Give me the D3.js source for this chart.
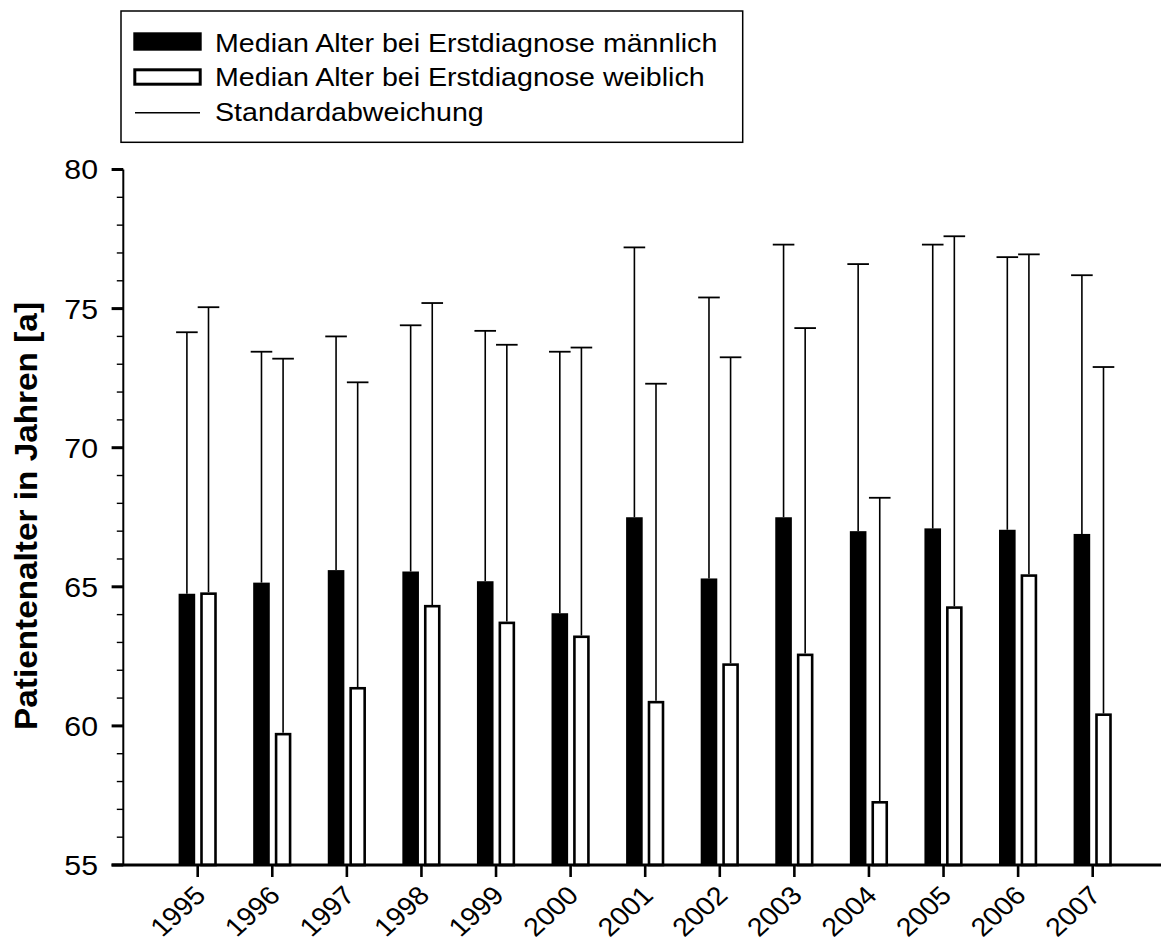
<!DOCTYPE html>
<html>
<head>
<meta charset="utf-8">
<script src="https://cdn.jsdelivr.net/npm/d3@7"></script>
<style>
  html, body { margin: 0; padding: 0; background: #fff; }
  svg { display: block; }
  text { font-family: "Liberation Sans", Arial, Helvetica, sans-serif; fill: #000; }
</style>
</head>
<body>
<svg id="chart" width="1161" height="943"></svg>
<script>
// Jahre der Erstdiagnose
const years = ["1995","1996","1997","1998","1999","2000","2001","2002","2003","2004","2005","2006","2007"];
// Median-Alter bei Erstdiagnose (Jahre)
const maleMedian   = [64.75, 65.15, 65.6, 65.55, 65.2, 64.05, 67.5, 65.3, 67.5, 67.0, 67.1, 67.05, 66.9];
const femaleMedian = [64.8, 59.75, 61.4, 64.35, 63.75, 63.25, 60.9, 62.25, 62.6, 57.3, 64.3, 65.45, 60.45];
// Standardabweichung (Jahre)
const maleSd   = [9.4, 8.3, 8.4, 8.85, 9.0, 9.4, 9.7, 10.1, 9.8, 9.6, 10.2, 9.8, 9.3];
const femaleSd = [10.25, 13.45, 10.95, 10.85, 9.95, 10.35, 11.4, 11.0, 11.7, 10.9, 13.3, 11.5, 12.45];
// Achsenbeschriftung
const yTicks = [55, 60, 65, 70, 75, 80];
const yTitle = "Patientenalter in Jahren [a]";
const legendLabels = [
  "Median Alter bei Erstdiagnose männlich",
  "Median Alter bei Erstdiagnose weiblich",
  "Standardabweichung"
];

const svg = d3.select("#chart");
const SX = 1.1; // horizontal text stretch

const x = d3.scalePoint().domain(years).range([197.7, 1092.7]);
const y = d3.scaleLinear().domain([55, 80]).range([865, 169.5]);

const off = 10.8;   // bar centre offset from year tick
const barW = 16.6;

const rows = years.map((yr, i) => ({
  yr, m: maleMedian[i], f: femaleMedian[i], ms: maleSd[i], fs: femaleSd[i]
}));

// Error bars (drawn first so bars sit on top)
const eb = svg.append("g").attr("stroke", "#000").attr("stroke-width", 1.6);
function errBar(cx, v, sd) {
  eb.append("line").attr("x1", cx).attr("x2", cx).attr("y1", y(v)).attr("y2", y(v + sd));
  eb.append("line").attr("x1", cx - 10.8).attr("x2", cx + 10.8)
    .attr("y1", y(v + sd)).attr("y2", y(v + sd)).attr("stroke-width", 1.8);
}
rows.forEach(d => {
  errBar(x(d.yr) - off, d.m, d.ms);
  errBar(x(d.yr) + off, d.f, d.fs);
});

// Male bars
svg.append("g").selectAll("rect").data(rows).join("rect")
  .attr("x", d => x(d.yr) - off - barW / 2)
  .attr("width", barW)
  .attr("y", d => y(d.m))
  .attr("height", d => y(55) - y(d.m))
  .attr("fill", "#000");

// Female bars
const fsw = 2.6;
svg.append("g").selectAll("rect").data(rows).join("rect")
  .attr("x", d => x(d.yr) + off - barW / 2 + fsw / 2)
  .attr("width", barW - fsw)
  .attr("y", d => y(d.f) + fsw / 2)
  .attr("height", d => y(55) - y(d.f) - fsw / 2)
  .attr("fill", "#fff")
  .attr("stroke", "#000")
  .attr("stroke-width", fsw);

// Y axis
const axisX = 123.3;
const yAxis = svg.append("g");
yAxis.append("line").attr("x1", axisX).attr("x2", axisX)
  .attr("y1", y(80)).attr("y2", y(55)).attr("stroke", "#000").attr("stroke-width", 2);
const minor = d3.range(56, 80).filter(v => v % 5 !== 0);
yAxis.selectAll(".minor").data(minor).join("line")
  .attr("x1", axisX - 6.5).attr("x2", axisX)
  .attr("y1", d => y(d)).attr("y2", d => y(d))
  .attr("stroke", "#000").attr("stroke-width", 1.4);
yAxis.selectAll(".major").data(yTicks).join("line")
  .attr("x1", axisX - 11.7).attr("x2", axisX)
  .attr("y1", d => y(d)).attr("y2", d => y(d))
  .attr("stroke", "#000").attr("stroke-width", 3);
yAxis.selectAll("text").data(yTicks).join("text")
  .attr("transform", d => `translate(98,${y(d) + 9.9}) scale(${SX},1)`)
  .attr("text-anchor", "end")
  .attr("font-size", 27.5)
  .text(d => d);

// X axis
const xAxis = svg.append("g");
xAxis.append("line").attr("x1", axisX - 11.7).attr("x2", 1161)
  .attr("y1", y(55)).attr("y2", y(55)).attr("stroke", "#000").attr("stroke-width", 3);
xAxis.selectAll(".tk").data(years).join("line")
  .attr("x1", d => x(d)).attr("x2", d => x(d))
  .attr("y1", y(55)).attr("y2", y(55) + 12)
  .attr("stroke", "#000").attr("stroke-width", 2.6);
xAxis.selectAll("text").data(years).join("text")
  .attr("transform", d => `translate(${x(d) + 9.5},897) scale(${SX},1) rotate(-45)`)
  .attr("text-anchor", "end")
  .attr("font-size", 26)
  .text(d => d);

// Y axis title
svg.append("text")
  .attr("transform", `translate(37,516) rotate(-90)`)
  .attr("text-anchor", "middle")
  .attr("font-size", 31)
  .attr("font-weight", "bold")
  .attr("textLength", 428)
  .attr("lengthAdjust", "spacingAndGlyphs")
  .text(yTitle);

// Legend
const lg = svg.append("g");
lg.append("rect").attr("x", 121).attr("y", 11).attr("width", 621.7).attr("height", 131.3)
  .attr("fill", "#fff").attr("stroke", "#000").attr("stroke-width", 1.5);
lg.append("rect").attr("x", 133.3).attr("y", 32.3).attr("width", 68.4).attr("height", 18.4)
  .attr("fill", "#000");
lg.append("rect").attr("x", 134.8).attr("y", 69.8).attr("width", 65.4).attr("height", 14.4)
  .attr("fill", "#fff").attr("stroke", "#000").attr("stroke-width", 3);
lg.append("line").attr("x1", 135).attr("x2", 200).attr("y1", 112.7).attr("y2", 112.7)
  .attr("stroke", "#000").attr("stroke-width", 1.5);
const baselines = [51.7, 86.1, 120.5];
lg.selectAll("text").data(legendLabels).join("text")
  .attr("transform", (d, i) => `translate(215,${baselines[i]}) scale(${SX},1)`)
  .attr("font-size", 26)
  .text(d => d);
</script>
</body>
</html>
